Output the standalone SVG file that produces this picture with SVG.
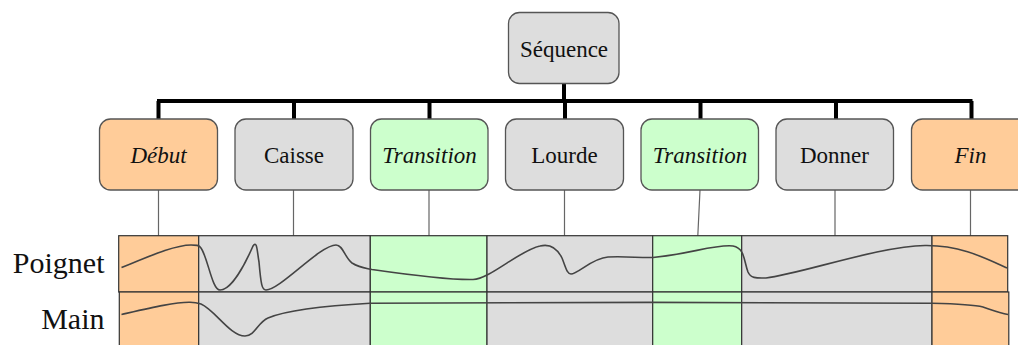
<svg xmlns="http://www.w3.org/2000/svg" width="1018" height="345" viewBox="0 0 1018 345">
<style>
.box{stroke:#555;stroke-width:1.3}
.gray{fill:#dddddd}
.orange{fill:#ffcc99}
.green{fill:#ccffcc}
.t{font-family:'Liberation Serif','DejaVu Serif',serif;font-size:23px;fill:#111;text-anchor:middle}
.i{font-style:italic}
.lbl{font-family:'Liberation Serif','DejaVu Serif',serif;font-size:30px;fill:#111;text-anchor:end}
.thick{stroke:#000;stroke-width:4;fill:none}
.thin{stroke:#666;stroke-width:1.2;fill:none}
.cell{stroke:#333;stroke-width:1.2}
.curve{fill:none;stroke:#444;stroke-width:1.6}
</style>
<rect width="1018" height="345" fill="#fff"/>
<g id="connectors">
<path class="thick" d="M564,83 V101 M157,101 H972.5 M158.5,101 V119 M294,101 V119 M429.5,101 V119 M565,101 V119 M700.5,101 V119 M836,101 V119 M971.5,101 V119"/>
<path class="thin" d="M158.5,190 V236 M293.5,190 V236 M429,190 V236 M564.5,190 V236 M700,190 L697.8,236 M835,190 V236 M970.5,190 V236"/>
</g>
<g id="node-sequence"><rect class="box gray" x="508.5" y="12.5" width="110.5" height="71" rx="11"/><text class="t" x="564" y="56.5">Séquence</text></g>
<g id="node-debut"><rect class="box orange" x="99.5" y="119" width="118" height="71" rx="11"/><text class="t i" x="158.5" y="163">Début</text></g>
<g id="node-caisse"><rect class="box gray" x="235" y="119" width="118" height="71" rx="11"/><text class="t" x="294" y="163">Caisse</text></g>
<g id="node-transition1"><rect class="box green" x="370.5" y="119" width="117.5" height="71" rx="11"/><text class="t i" x="429.5" y="163">Transition</text></g>
<g id="node-lourde"><rect class="box gray" x="505.5" y="119" width="118" height="71" rx="11"/><text class="t" x="564.5" y="163">Lourde</text></g>
<g id="node-transition2"><rect class="box green" x="641" y="119" width="117.5" height="71" rx="11"/><text class="t i" x="700" y="163">Transition</text></g>
<g id="node-donner"><rect class="box gray" x="776" y="119" width="117.5" height="71" rx="11"/><text class="t" x="834.5" y="163">Donner</text></g>
<g id="node-fin"><rect class="box orange" x="911.5" y="119" width="118" height="71" rx="11"/><text class="t i" x="970.5" y="163">Fin</text></g>
<g id="table">
<rect class="cell orange" x="118.7" y="235.7" width="80" height="56.3"/>
<rect class="cell gray" x="198.7" y="235.7" width="171.6" height="56.3"/>
<rect class="cell green" x="370.3" y="235.7" width="116.7" height="56.3"/>
<rect class="cell gray" x="487" y="235.7" width="165.7" height="56.3"/>
<rect class="cell green" x="652.7" y="235.7" width="89" height="56.3"/>
<rect class="cell gray" x="741.7" y="235.7" width="190.3" height="56.3"/>
<rect class="cell orange" x="932" y="235.7" width="75.7" height="56.3"/>
<rect class="cell orange" x="119.3" y="292" width="79.4" height="60"/>
<rect class="cell gray" x="198.7" y="292" width="171.6" height="60"/>
<rect class="cell green" x="370.3" y="292" width="116.7" height="60"/>
<rect class="cell gray" x="487" y="292" width="165.7" height="60"/>
<rect class="cell green" x="652.7" y="292" width="89" height="60"/>
<rect class="cell gray" x="741.7" y="292" width="190.3" height="60"/>
<rect class="cell orange" x="932" y="292" width="76.8" height="60"/>
<path class="curve" d="M121.5,267.5 C150,256 175,245 191,245 C196,245 199,245 201,248 C208,258 212,290 220,290 C232,290 246,262 253,246 C257,240 257,250 259,262 C261,285 262,290 266,290 C280,290 320,245 336,245 C343,245 345,258 352,263 C360,268 365,268 372,269.5 C410,275 450,280 473,279.5 C490,279 520,250 540,246 C552,243 558,250 562,258 C566,268 567,274 571,274 C578,274 592,258 608,257 C625,256 640,258 653,257.5 C690,254 715,244 733,246 C745,248 744,262 748,272 C751,279 758,278 766,278 C800,274 880,246 925,245.5 C960,245 985,258 1007,268"/>
<path class="curve" d="M121.5,314.5 C150,308 175,302 190,302.3 C195,302.3 198,303 201,304 C215,310 230,336 245,336 C255,336 258,322 268,318 C285,311 320,306 370,303.3 C450,302 850,302 932,303.3 C960,304 975,305 983,307 C992,310 1000,313 1008,314.5"/>
<text class="lbl" x="104.5" y="273">Poignet</text>
<text class="lbl" x="104.5" y="329">Main</text>
</g>
</svg>
